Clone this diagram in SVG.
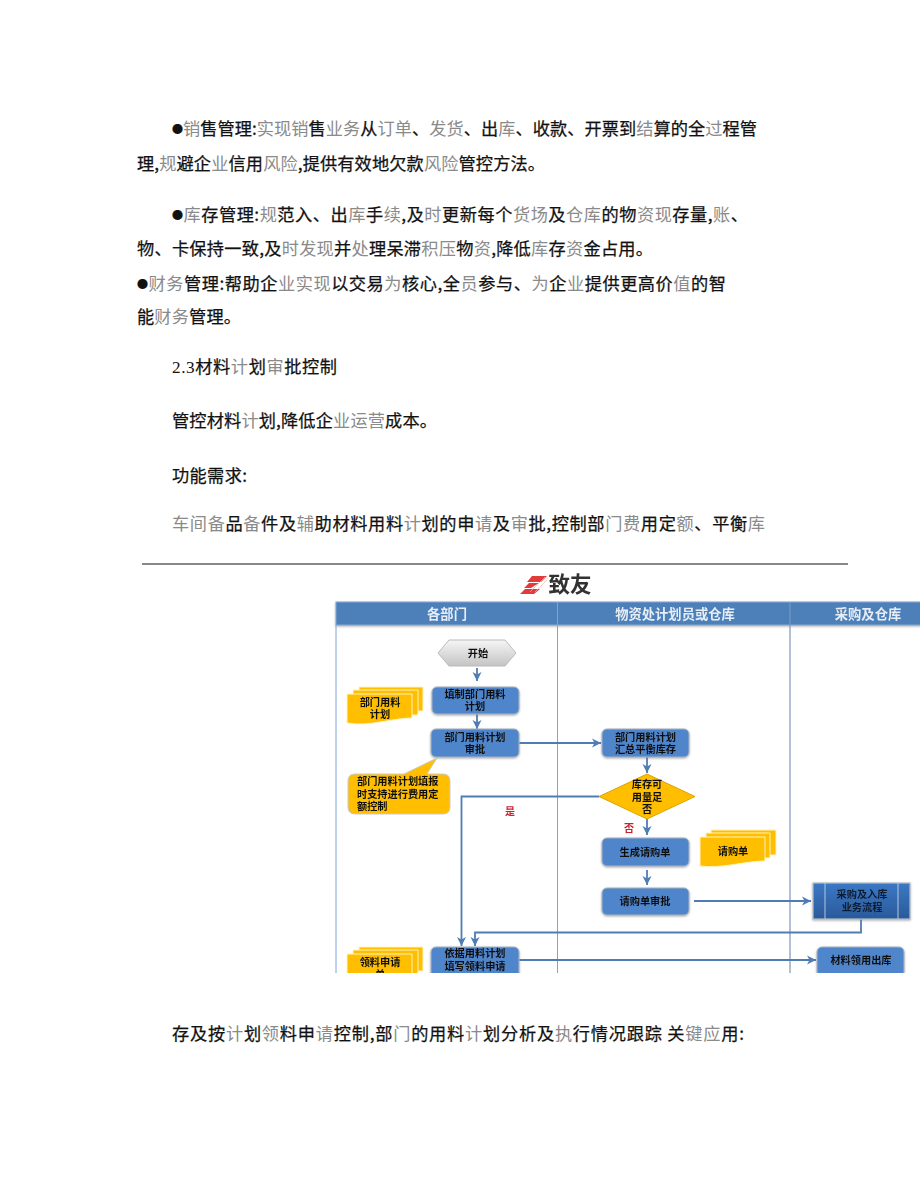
<svg xmlns="http://www.w3.org/2000/svg" width="920" height="1191" viewBox="0 0 920 1191">
<style>
.p{font-family:"Noto Sans CJK SC","Liberation Sans",sans-serif;font-size:17.2px;fill:#111;stroke:#111;stroke-width:.25}
.g{fill:#8a8a8a;stroke:none}
.e{font-size:11px}
.d{font-family:"Noto Sans CJK SC","Liberation Sans",sans-serif;font-size:10.2px;font-weight:700;fill:#111;text-anchor:middle}
.s{text-anchor:start}
.h{font-family:"Noto Sans CJK SC","Liberation Sans",sans-serif;font-size:13.3px;font-weight:700;fill:#e6edf6;text-anchor:middle}
.r{font-family:"Noto Sans CJK SC","Liberation Sans",sans-serif;font-size:10px;font-weight:700;fill:#c8202c;text-anchor:middle}
.b{fill:#4f85cb;stroke:#a9b4c2;stroke-width:1;filter:url(#ds)}
.y{fill:#ffbf00;stroke:#fff3c4;stroke-width:1}
.c{fill:none;stroke:#4f7db3;stroke-width:1.8;marker-end:url(#a)}
.ln{stroke:#7ea3d6;stroke-width:1}
</style>
<defs>
<marker id="a" markerUnits="userSpaceOnUse" markerWidth="10" markerHeight="10" refX="9" refY="5" orient="auto"><path d="M0 0.5L9 5L0 9.5L2.5 5Z" fill="#4f7db3"/></marker>
<linearGradient id="hx" x1="0" y1="0" x2="0" y2="1"><stop offset="0" stop-color="#f6f6f6"/><stop offset="1" stop-color="#c4c4c4"/></linearGradient>
<linearGradient id="pb" x1="0" y1="0" x2="0" y2="1"><stop offset="0" stop-color="#3b78c4"/><stop offset="1" stop-color="#2a5a9a"/></linearGradient>
<clipPath id="cp"><rect x="330" y="565" width="590" height="408"/></clipPath>
<filter id="sf" x="-2%" y="-2%" width="104%" height="104%"><feGaussianBlur stdDeviation="0.4"/></filter>
<filter id="ds" x="-5%" y="-5%" width="110%" height="125%"><feDropShadow dx="0" dy="1" stdDeviation="0.8" flood-color="#777" flood-opacity=".6"/></filter>
</defs>
<rect width="920" height="1191" fill="#fff"/>
<g id="body-text">
<text class="p" x="172" y="135" textLength="585"><tspan class="e" dy="-2">●</tspan><tspan class="g" dy="2">销</tspan>售管理:<tspan class="g">实现销</tspan>售<tspan class="g">业务</tspan>从<tspan class="g">订单</tspan>、<tspan class="g">发货</tspan>、出<tspan class="g">库</tspan>、收款、开票到<tspan class="g">结</tspan>算的全<tspan class="g">过</tspan>程管</text>
<text class="p" x="137" y="170" textLength="408">理,<tspan class="g">规</tspan>避企<tspan class="g">业</tspan>信用<tspan class="g">风险</tspan>,提供有效地欠款<tspan class="g">风险</tspan>管控方法。</text>
<text class="p" x="172" y="221" textLength="576"><tspan class="e" dy="-2">●</tspan><tspan class="g" dy="2">库</tspan>存管理:<tspan class="g">规</tspan>范入、出<tspan class="g">库</tspan>手<tspan class="g">续</tspan>,及<tspan class="g">时</tspan>更新每个<tspan class="g">货场</tspan>及<tspan class="g">仓库</tspan>的物<tspan class="g">资现</tspan>存量,<tspan class="g">账</tspan>、</text>
<text class="p" x="137" y="255" textLength="516">物、卡保持一致,及<tspan class="g">时发现</tspan>并<tspan class="g">处</tspan>理呆滞<tspan class="g">积压</tspan>物<tspan class="g">资</tspan>,降低<tspan class="g">库</tspan>存<tspan class="g">资</tspan>金占用。</text>
<text class="p" x="137" y="290" textLength="589"><tspan class="e" dy="-2">●</tspan><tspan class="g" dy="2">财务</tspan>管理:帮助企<tspan class="g">业实现</tspan>以交易<tspan class="g">为</tspan>核心,全<tspan class="g">员</tspan>参与、<tspan class="g">为</tspan>企<tspan class="g">业</tspan>提供更高价<tspan class="g">值</tspan>的智</text>
<text class="p" x="137" y="323" textLength="104">能<tspan class="g">财务</tspan>管理。</text>
<text class="p" x="172" y="373" textLength="165"><tspan font-family="Liberation Serif" style="stroke:none">2.3</tspan>材料<tspan class="g">计</tspan>划<tspan class="g">审</tspan>批控制</text>
<text class="p" x="172" y="427" textLength="265">管控材料<tspan class="g">计</tspan>划,降低企<tspan class="g">业运营</tspan>成本。</text>
<text class="p" x="172" y="482" textLength="75">功能需求:</text>
<text class="p" x="172" y="530" textLength="593"><tspan class="g">车间备</tspan>品<tspan class="g">备</tspan>件及<tspan class="g">辅</tspan>助材料用料<tspan class="g">计</tspan>划的申<tspan class="g">请</tspan>及<tspan class="g">审</tspan>批,控制部<tspan class="g">门费</tspan>用定<tspan class="g">额</tspan>、平衡<tspan class="g">库</tspan></text>
<text class="p" x="172" y="1040" textLength="572">存及按<tspan class="g">计</tspan>划<tspan class="g">领</tspan>料申<tspan class="g">请</tspan>控制,部<tspan class="g">门</tspan>的用料<tspan class="g">计</tspan>划分析及<tspan class="g">执</tspan>行情况跟踪 关<tspan class="g">键应</tspan>用:</text>
</g>
<line id="rule" x1="142" y1="564" x2="848" y2="564" stroke="#111" stroke-width="1"/>
<g id="flowchart" clip-path="url(#cp)">
<g filter="url(#sf)">
<g id="logo">
<path d="M532 576H547L541 582H527ZM529 583H539L531 588H524ZM525 589H540L534 594H520Z" fill="#e23a3a"/>
<path d="M530 592L545 577M535 592L547 580" stroke="#f6b0b0" stroke-width=".7"/>
<text x="570" y="592" font-family="'Noto Sans CJK SC',sans-serif" font-size="21.5" font-weight="700" fill="#333" text-anchor="middle">致友</text>
</g>
<g id="lanes">
<rect x="336" y="602" width="590" height="23" fill="#4e7fb9" stroke="#88a9d2" style="filter:url(#ds)"/>
<line class="ln" x1="336" y1="625" x2="336" y2="973"/>
<line class="ln" x1="557.5" y1="602" x2="557.5" y2="973"/>
<line x1="790" y1="602" x2="790" y2="973" stroke="#7b98bb" stroke-width="1.2"/>
<text class="h" x="447" y="619">各部门</text>
<text class="h" x="675" y="619">物资处计划员或仓库</text>
<text class="h" x="868" y="619">采购及仓库</text>
</g>
<g id="connectors">
<path class="c" d="M477 668V681"/>
<path class="c" d="M477 714V729"/>
<path class="c" d="M519 743H601"/>
<path class="c" d="M647 757V773"/>
<path class="c" d="M647 819V835"/>
<path class="c" d="M647 870V885"/>
<path class="c" d="M694 901H811"/>
<path class="c" d="M599 796.5H461.5V946"/>
<path class="c" d="M861 919V932.5H475V946"/>
<path class="c" d="M519 960H816"/>
</g>
<g id="n-start"><path d="M438 653L449 640H505L516 653L505 666H449Z" fill="url(#hx)" stroke="#bbb"/><text class="d" x="478" y="657">开始</text></g>
<g id="n-fill"><rect class="b" x="432" y="687" width="87" height="27" rx="5"/><text class="d" x="475" y="698">填制部门用料</text><text class="d" x="475" y="710">计划</text></g>
<g id="n-approve"><rect class="b" x="431" y="729" width="88" height="28" rx="5"/><text class="d" x="475" y="741">部门用料计划</text><text class="d" x="475" y="753">审批</text></g>
<g id="n-doc1"><path class="y" d="M359 687H423V711H359Z"/><path class="y" d="M353 690H418V715H353Z"/><path class="y" d="M347 694H412V718C392 718 370 727 347 723Z" stroke="#fff3c4"/><text class="d" x="380" y="706">部门用料</text><text class="d" x="380" y="718">计划</text></g>
<g id="n-note"><path class="y" d="M355 774H404L437 758L427 774H443Q450 774 450 781V807Q450 814 443 814H355Q348 814 348 807V781Q348 774 355 774Z" style="stroke:#c9c9c9"/><text class="d s" x="357" y="785">部门用料计划填报</text><text class="d s" x="357" y="798">时支持进行费用定</text><text class="d s" x="357" y="810">额控制</text></g>
<g id="n-summary"><rect class="b" x="602" y="729" width="87" height="28" rx="5"/><text class="d" x="645.500" y="741">部门用料计划</text><text class="d" x="645.500" y="753">汇总平衡库存</text></g>
<g id="n-decision"><path d="M599 796.5L647 774L695 796.5L647 819Z" fill="#ffbf00" stroke="#d9a400"/><text class="d" x="647" y="788">库存可</text><text class="d" x="647" y="801">用量足</text><text class="d" x="647" y="813">否</text></g>
<text id="l-yes" class="r" x="510" y="815">是</text>
<text id="l-no" class="r" x="629" y="832">否</text>
<g id="n-pr"><rect class="b" x="602" y="838" width="87" height="28" rx="5"/><text class="d" x="645" y="856">生成请购单</text></g>
<g id="n-doc2"><path class="y" d="M711 830H776V855H711Z"/><path class="y" d="M706 833H770V858H706Z"/><path class="y" d="M700 837H765V861C745 861 722 869 700 866Z"/><text class="d" x="733" y="855">请购单</text></g>
<g id="n-prok"><rect class="b" x="602" y="888" width="87" height="27" rx="5"/><text class="d" x="645" y="905">请购单审批</text></g>
<g id="n-proc"><rect x="813" y="883" width="97" height="36" fill="url(#pb)" stroke="#b5bfcb" stroke-width="1.2" style="filter:url(#ds)"/><path d="M825 883V919M898 883V919" stroke="#b5c6dc" stroke-width="1"/><text class="d" x="862" y="898" style="fill:#0d1c30">采购及入库</text><text class="d" x="862" y="911" style="fill:#0d1c30">业务流程</text></g>
<g id="n-req"><rect class="b" x="431" y="947" width="88" height="32" rx="5"/><text class="d" x="475" y="957">依据用料计划</text><text class="d" x="475" y="970">填写领料申请</text></g>
<g id="n-doc3"><path class="y" d="M359 947H423V971H359Z"/><path class="y" d="M353 950H418V975H353Z"/><path class="y" d="M347 954H412V980H347Z"/><text class="d" x="380" y="966">领料申请</text><text class="d" x="380" y="978">单</text></g>
<g id="n-issue"><rect class="b" x="817" y="947" width="87" height="30" rx="5"/><text class="d" x="861" y="964">材料领用出库</text></g>
</g>
</g>
</svg>
